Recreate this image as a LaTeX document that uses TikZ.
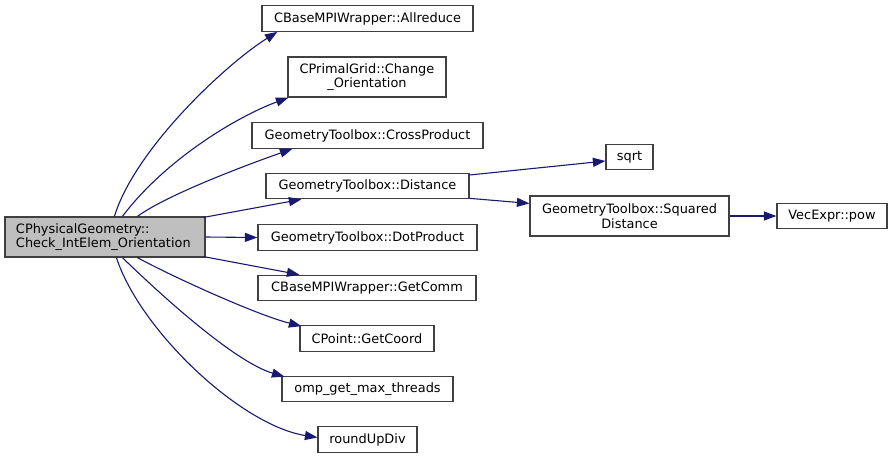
\documentclass[tikz,border=0pt]{standalone}
\usepackage{fontspec}
\setmainfont{DejaVu Sans}
\usetikzlibrary{arrows.meta,calc}
\definecolor{edgeblue}{HTML}{191970}
\definecolor{boxborder}{HTML}{404040}
\definecolor{mainfill}{HTML}{BFBFBF}
\begin{document}
\begin{tikzpicture}[x=1pt,y=-1pt,
  fn/.style={draw=boxborder,line width=1.2pt,fill=white,inner sep=0pt,align=center,
    font=\fontsize{12.9}{14.4}\selectfont},
  mainbox/.style={fn,fill=mainfill,align=left,inner xsep=11pt,inner ysep=0pt},
  call/.style={draw=edgeblue,line width=1.1pt,-{Triangle[length=12.5pt,width=9pt]}}]
\useasboundingbox (0,0) rectangle (892,459);
% nodes
\node[mainbox,text width=178pt,minimum height=40pt] (main) at (105,237)
  {CPhysicalGeometry::\\Check\_IntElem\_Orientation};
\node[fn,minimum width=211pt,minimum height=25.5pt] (allreduce) at (367.5,18.5) {CBaseMPIWrapper::Allreduce};
\node[fn,minimum width=158pt,minimum height=40pt] (change) at (367,77) {CPrimalGrid::Change\\\_Orientation};
\node[fn,minimum width=231pt,minimum height=25.5pt] (cross) at (367.5,135.5) {GeometryToolbox::CrossProduct};
\node[fn,minimum width=203pt,minimum height=25.5pt] (distance) at (367.5,186) {GeometryToolbox::Distance};
\node[fn,minimum width=219pt,minimum height=25.5pt] (dot) at (367.5,237.5) {GeometryToolbox::DotProduct};
\node[fn,minimum width=218pt,minimum height=25.5pt] (getcomm) at (367,288) {CBaseMPIWrapper::GetComm};
\node[fn,minimum width=134pt,minimum height=25.5pt] (getcoord) at (367,338.5) {CPoint::GetCoord};
\node[fn,minimum width=171pt,minimum height=25.5pt] (omp) at (367.5,389) {omp\_get\_max\_threads};
\node[fn,minimum width=99pt,minimum height=25.5pt] (roundup) at (367.5,439.5) {roundUpDiv};
\node[fn,minimum width=47pt,minimum height=25.5pt] (sqrt) at (629.5,157) {sqrt};
\node[fn,minimum width=199pt,minimum height=40pt] (squared) at (629.5,216) {GeometryToolbox::Squared\\Distance};
\node[fn,minimum width=110pt,minimum height=25.5pt] (pow) at (832,216) {VecExpr::pow};
% edges
\draw[call] ($(main.north west)+(110,0)$) .. controls (135,149) and (226,64) .. ($(allreduce.south west)+(16,0)$);
\draw[call] ($(main.north west)+(118,0)$) .. controls (165,160) and (236,117) .. ($(change.south west)+(1,0)$);
\draw[call] ($(main.north west)+(133,0)$) .. controls (168,194) and (252,163) .. ($(cross.south west)+(41,0)$);
\draw[call] ($(main.north east)+(-2,1)$) -- ($(distance.south west)+(36,0)$);
\draw[call] (main.east) -- (dot.west);
\draw[call] ($(main.south east)+(-2,-1)$) -- ($(getcomm.north west)+(42,0)$);
\draw[call] ($(main.south west)+(133,0)$) .. controls (173,277) and (257,315) .. ($(getcoord.north west)+(2,1)$);
\draw[call] ($(main.south west)+(118,0)$) .. controls (163,297) and (235,362) .. ($(omp.north west)+(3,1)$);
\draw[call] ($(main.south west)+(112,0)$) .. controls (140,330) and (240,425) .. ($(roundup.west)+(0,-2)$);
\draw[call] ($(distance.east)+(0,-11)$) -- ($(sqrt.west)+(0,4)$);
\draw[call] ($(distance.south east)+(0,-1)$) -- ($(squared.north west)+(0,8)$);
\draw[call] (squared.east) -- (pow.west);
\end{tikzpicture}
\end{document}
